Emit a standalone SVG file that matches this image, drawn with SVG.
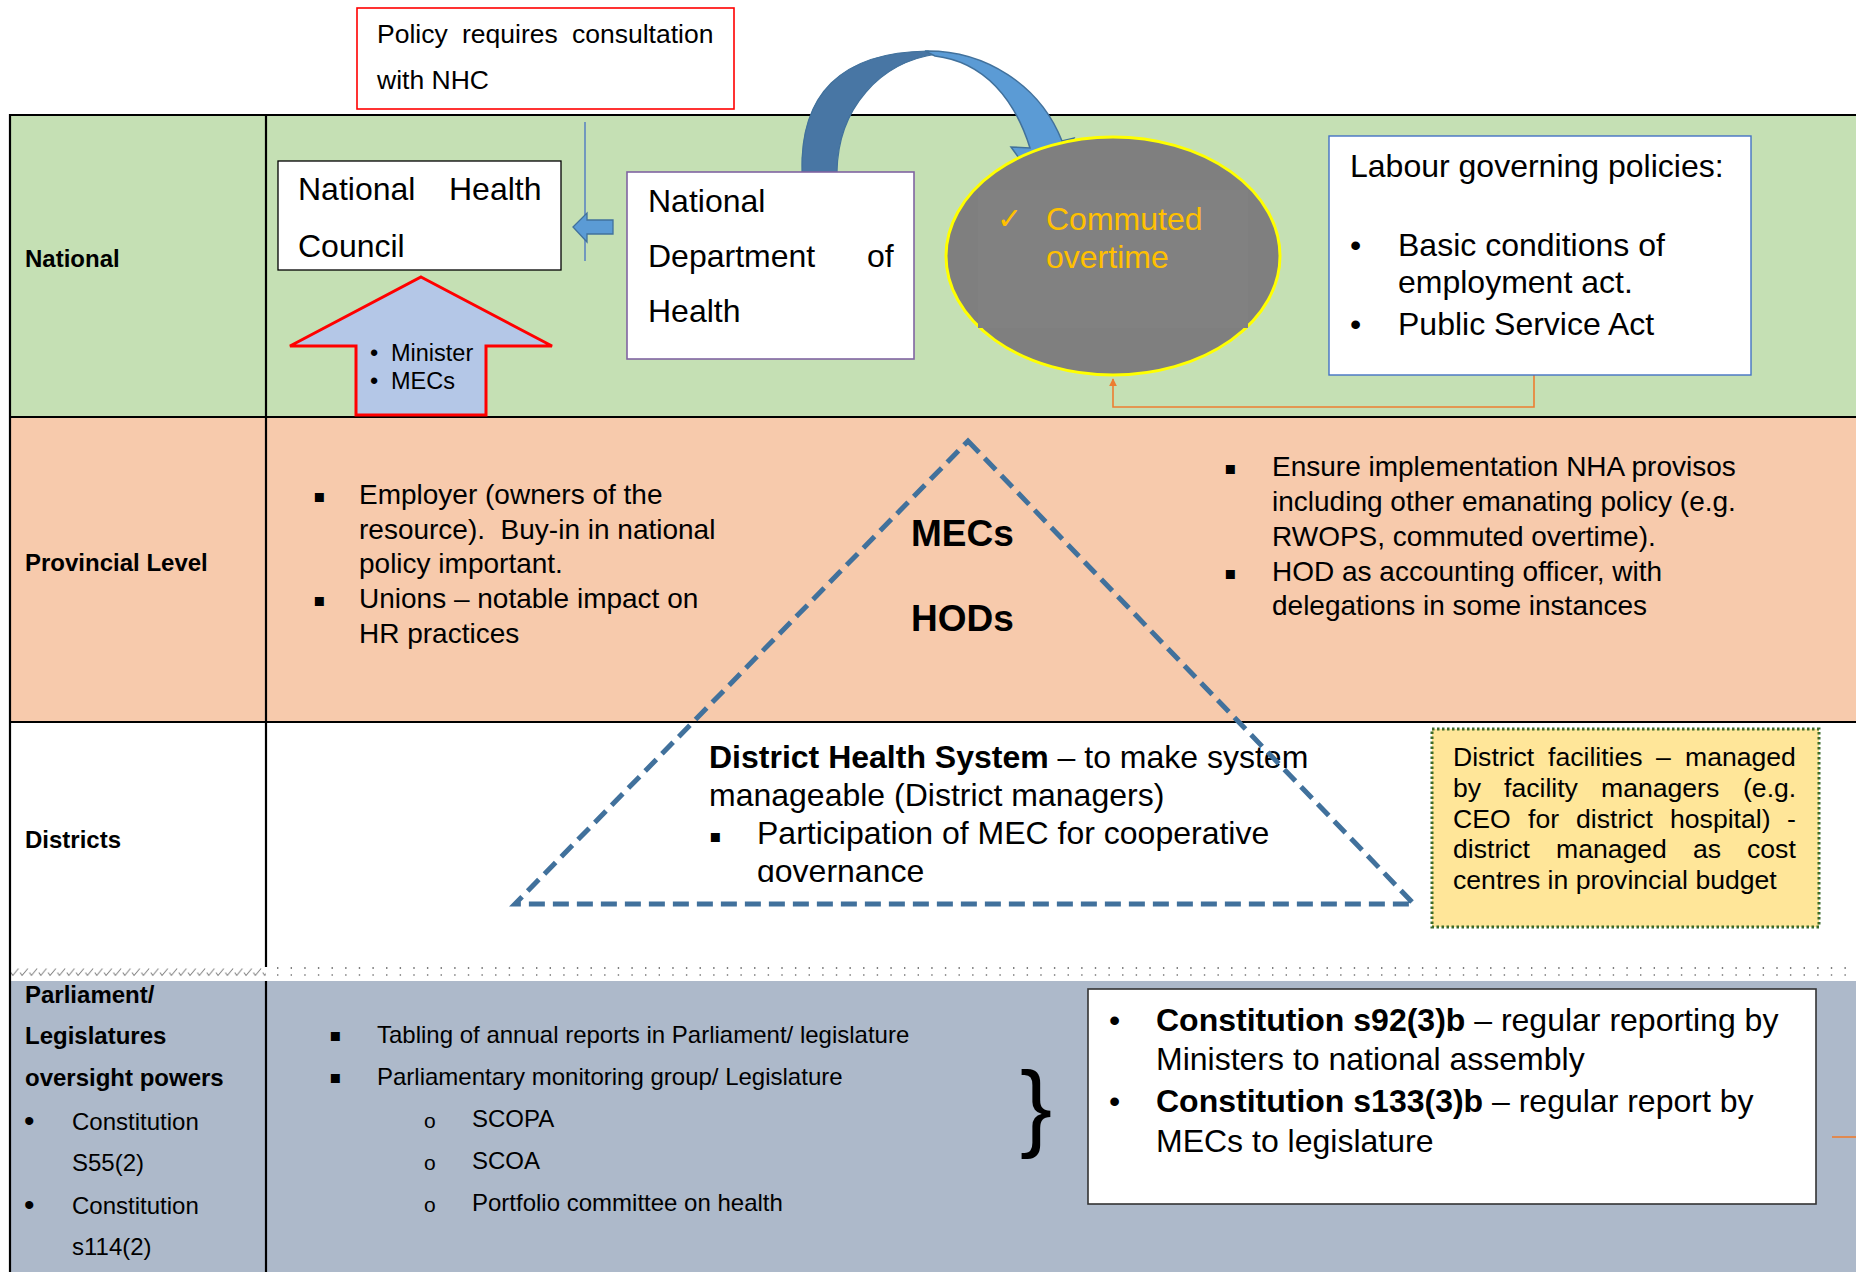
<svg xmlns="http://www.w3.org/2000/svg" width="1856" height="1272" viewBox="0 0 1856 1272">
<style>
text{font-family:"Liberation Sans",Arial,sans-serif;fill:#000}
.lbl{font-size:24px;font-weight:bold}
.b{font-weight:bold}
.sq{font-family:"DejaVu Sans",sans-serif;font-size:18px}
.tbl{stroke:#000;stroke-width:2.2;fill:none}
</style>
<defs>
<pattern id="hatch" width="9.33" height="12" patternUnits="userSpaceOnUse" x="10" y="966">
<path d="M0.8 6.5 L2.8 9.5 L8.5 2.5" stroke="#7a7a7a" stroke-width="1" fill="none"/>
</pattern>
<marker id="oarr" viewBox="0 0 10 10" refX="9" refY="5" markerWidth="5" markerHeight="5" orient="auto">
<path d="M0 0 L10 5 L0 10 Z" fill="#ED7D31"/>
</marker>
<clipPath id="dhsclip"><rect x="600" y="730" width="800" height="152"/></clipPath>
</defs>

<!-- table rows -->
<g id="table">
<rect x="10" y="115" width="1846" height="302" fill="#C5E0B4"/>
<rect x="10" y="417" width="1846" height="305" fill="#F7CAAC"/>
<rect x="10" y="722" width="1846" height="245" fill="#FFFFFF"/>
<rect x="10" y="981" width="1846" height="291" fill="#ADB9CA"/>
<rect x="11" y="967" width="255" height="11" fill="url(#hatch)"/>
<line x1="277" y1="968" x2="1856" y2="968" stroke="#555" stroke-width="1.4" stroke-dasharray="1.4 12.23"/>
<line x1="277" y1="975" x2="1856" y2="975" stroke="#777" stroke-width="1.4" stroke-dasharray="1.4 12.23"/>
<line class="tbl" x1="9" y1="115" x2="1856" y2="115" stroke-width="2.8"/>
<line class="tbl" x1="9" y1="417" x2="1856" y2="417"/>
<line class="tbl" x1="9" y1="722" x2="1856" y2="722"/>
<line class="tbl" x1="10" y1="114" x2="10" y2="1272"/>
<line class="tbl" x1="266" y1="115" x2="266" y2="967"/>
<line class="tbl" x1="266" y1="981" x2="266" y2="1272"/>
<text class="lbl" x="25" y="267">National</text>
<text class="lbl" x="25" y="571">Provincial Level</text>
<text class="lbl" x="25" y="848">Districts</text>
<text class="lbl" x="25" y="1003">Parliament/</text>
<text class="lbl" x="25" y="1044">Legislatures</text>
<text class="lbl" x="25" y="1086">oversight powers</text>
<g font-size="24">
<text x="24" y="1131" font-size="30">•</text><text x="72" y="1130">Constitution</text>
<text x="72" y="1171">S55(2)</text>
<text x="24" y="1215" font-size="30">•</text><text x="72" y="1214">Constitution</text>
<text x="72" y="1255">s114(2)</text>
</g>
</g>

<!-- connectors -->
<g id="connectors">
<line x1="585" y1="122" x2="585" y2="261" stroke="#4472C4" stroke-width="1.3"/>
<path d="M1534 375 V407 H1113 V379" fill="none" stroke="#ED7D31" stroke-width="1.6" marker-end="url(#oarr)"/>
<line x1="1832" y1="1137" x2="1856" y2="1137" stroke="#ED7D31" stroke-width="1.6"/>
<path id="curved-arrow-left" d="M802 172 C800 95 840 52 928 51 L937 54 C880 62 838 108 837 172 Z" fill="#4876A4" stroke="#41719C" stroke-width="1.2"/>
<path id="curved-arrow-right" d="M925 51 C985 50 1040 85 1062 141 L1074 138 L1046 196 L1011 147 L1030 148 C1015 100 985 62 935 56 Z" fill="#5B9BD5" stroke="#41719C" stroke-width="1.5"/>
<path id="small-left-arrow" d="M573 227 L587 213 L587 220 L613 220 L613 234 L587 234 L587 242 Z" fill="#5B9BD5" stroke="#41719C" stroke-width="1.3"/>
</g>

<g id="policy-box">
<rect x="357" y="8" width="377" height="101" fill="#fff" stroke="#FF0000" stroke-width="1.6"/>
<text font-size="26.5" y="43"><tspan x="377">Policy</tspan><tspan x="462">requires</tspan><tspan x="572">consultation</tspan></text>
<text font-size="26.5" x="377" y="89">with NHC</text>
</g>

<g id="nhc">
<rect x="278" y="161" width="283" height="109" fill="#fff" stroke="#000" stroke-width="1.3"/>
<text font-size="32" y="200"><tspan x="298">National</tspan><tspan x="449">Health</tspan></text>
<text font-size="32" x="298" y="257">Council</text>
</g>

<g id="minister-arrow">
<path d="M421 277 L552 346 L486 346 L486 415 L356 415 L356 346 L290 346 Z" fill="#B4C7E7" stroke="#FF0000" stroke-width="3"/>
<text font-size="23.5" x="370" y="361">•</text><text font-size="23.5" x="391" y="361">Minister</text>
<text font-size="23.5" x="370" y="389">•</text><text font-size="23.5" x="391" y="389">MECs</text>
</g>

<g id="ndoh">
<rect x="627" y="172" width="287" height="187" fill="#fff" stroke="#8064A2" stroke-width="1.6"/>
<text font-size="32" x="648" y="212">National</text>
<text font-size="32" y="267"><tspan x="648">Department</tspan><tspan x="867">of</tspan></text>
<text font-size="32" x="648" y="322">Health</text>
</g>

<g id="commuted-overtime">
<ellipse cx="1113" cy="256" rx="167" ry="119" fill="#7F7F7F" stroke="#FFFF00" stroke-width="3"/>
<rect x="978" y="190" width="270" height="138" fill="#818181"/>
<text font-family="DejaVu Sans,sans-serif" font-size="30" x="997" y="229" style="fill:#FFC000">✓</text>
<text font-size="32" x="1046" y="230" style="fill:#FFC000">Commuted</text>
<text font-size="32" x="1046" y="268" style="fill:#FFC000">overtime</text>
</g>

<g id="labour">
<rect x="1329" y="136" width="422" height="239" fill="#fff" stroke="#4472C4" stroke-width="1.4"/>
<text font-size="32" x="1350" y="177">Labour governing policies:</text>
<text font-size="32" x="1350" y="256">•</text><text font-size="32" x="1398" y="256">Basic conditions of</text>
<text font-size="32" x="1398" y="293">employment act.</text>
<text font-size="32" x="1350" y="335">•</text><text font-size="32" x="1398" y="335">Public Service Act</text>
</g>

<g id="provincial-left">
<text class="sq" x="313" y="502">▪</text>
<text font-size="28" x="359" y="504">Employer (owners of the</text>
<text font-size="28" x="359" y="539">resource).&#160; Buy-in in national</text>
<text font-size="28" x="359" y="573">policy important.</text>
<text class="sq" x="313" y="606">▪</text>
<text font-size="28" x="359" y="608">Unions – notable impact on</text>
<text font-size="28" x="359" y="643">HR practices</text>
</g>

<g id="provincial-right">
<text class="sq" x="1224" y="474">▪</text>
<text font-size="28" x="1272" y="476">Ensure implementation NHA provisos</text>
<text font-size="28" x="1272" y="511">including other emanating policy (e.g.</text>
<text font-size="28" x="1272" y="546">RWOPS, commuted overtime).</text>
<text class="sq" x="1224" y="579">▪</text>
<text font-size="28" x="1272" y="581">HOD as accounting officer, with</text>
<text font-size="28" x="1272" y="615">delegations in some instances</text>
</g>

<g id="district-health-system" clip-path="url(#dhsclip)">
<text font-size="32" x="709" y="768"><tspan class="b">District Health System</tspan> – to make system</text>
<text font-size="32" x="709" y="806">manageable (District managers)</text>
<text class="sq" x="709" y="842">▪</text>
<text font-size="32" x="757" y="844">Participation of MEC for cooperative</text>
<text font-size="32" x="757" y="882">governance</text>
</g>

<g id="mecs-hods-triangle">
<path d="M968 441 L1414 904 L515 904 Z" fill="none" stroke="#41719C" stroke-width="5" stroke-dasharray="16 8" stroke-linejoin="miter"/>
<text class="b" font-size="37" x="911" y="546">MECs</text>
<text class="b" font-size="37" x="911" y="631">HODs</text>
</g>

<g id="district-facilities">
<rect x="1432" y="729" width="387" height="198" fill="#FFE699" stroke="#3B6B2A" stroke-width="3" stroke-dasharray="2.5 2.5"/>
<g font-size="26.6">
<text y="766"><tspan x="1453">District</tspan><tspan x="1548">facilities</tspan><tspan x="1656">–</tspan><tspan x="1685">managed</tspan></text>
<text y="797"><tspan x="1453">by</tspan><tspan x="1504">facility</tspan><tspan x="1601">managers</tspan><tspan x="1743">(e.g.</tspan></text>
<text y="828"><tspan x="1453">CEO</tspan><tspan x="1528">for</tspan><tspan x="1576">district</tspan><tspan x="1670">hospital)</tspan><tspan x="1787">-</tspan></text>
<text y="858"><tspan x="1453">district</tspan><tspan x="1556">managed</tspan><tspan x="1693">as</tspan><tspan x="1747">cost</tspan></text>
<text x="1453" y="889">centres in provincial budget</text>
</g>
</g>

<g id="parliament-items">
<text class="sq" x="329" y="1041">▪</text>
<text font-size="24" x="377" y="1043">Tabling of annual reports in Parliament/ legislature</text>
<text class="sq" x="329" y="1083">▪</text>
<text font-size="24" x="377" y="1085">Parliamentary monitoring group/ Legislature</text>
<text font-family="Liberation Mono,monospace" font-size="21" x="424" y="1128">o</text>
<text font-size="24" x="472" y="1127">SCOPA</text>
<text font-family="Liberation Mono,monospace" font-size="21" x="424" y="1170">o</text>
<text font-size="24" x="472" y="1169">SCOA</text>
<text font-family="Liberation Mono,monospace" font-size="21" x="424" y="1212">o</text>
<text font-size="24" x="472" y="1211">Portfolio committee on health</text>
<text font-size="96" x="1020" y="1139">}</text>
</g>

<g id="constitution-box">
<rect x="1088" y="989" width="728" height="215" fill="#fff" stroke="#333" stroke-width="1.6"/>
<text font-size="32" x="1109" y="1031">•</text>
<text font-size="32" x="1156" y="1031"><tspan class="b">Constitution s92(3)b</tspan> – regular reporting by</text>
<text font-size="32" x="1156" y="1070">Ministers to national assembly</text>
<text font-size="32" x="1109" y="1112">•</text>
<text font-size="32" x="1156" y="1112"><tspan class="b">Constitution s133(3)b</tspan> – regular report by</text>
<text font-size="32" x="1156" y="1152">MECs to legislature</text>
</g>
</svg>
